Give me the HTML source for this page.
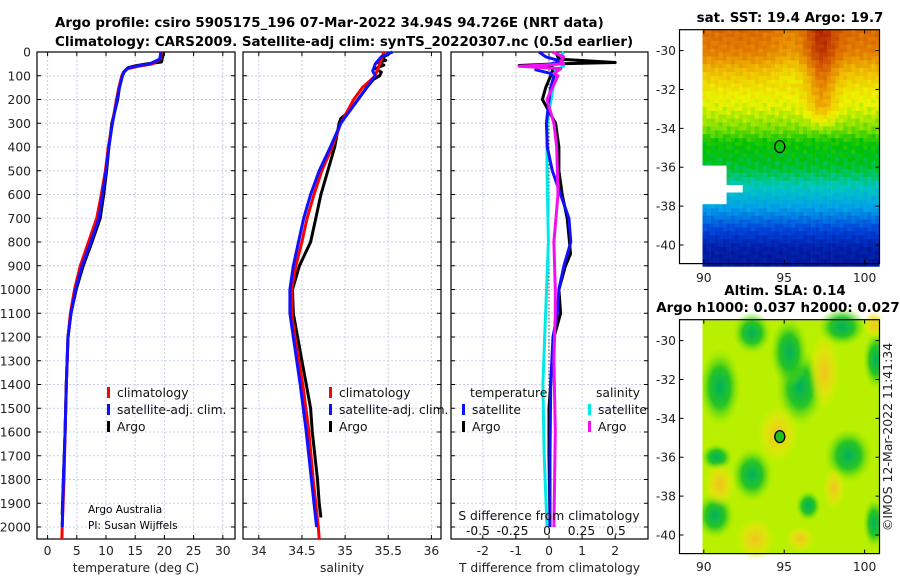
<!DOCTYPE html>
<html><head><meta charset="utf-8"><style>
html,body{margin:0;padding:0;background:#fff;}
svg{display:block;font-family:"DejaVu Sans","Liberation Sans",sans-serif;}
</style></head><body>
<svg id="fig" width="900" height="580" viewBox="0 0 900 580" xmlns="http://www.w3.org/2000/svg">
<g font-weight="bold" font-size="13.4" fill="#000">
<text x="55" y="27">Argo profile: csiro 5905175_196 07-Mar-2022 34.94S 94.726E (NRT data)</text>
<text x="55" y="46">Climatology: CARS2009. Satellite-adj clim: synTS_20220307.nc (0.5d earlier)</text>
</g>
<g id="p1"></g>
<g id="p2"></g>
<g id="p3"></g>
<g id="m1"></g>
<g id="m2"></g>
<text x="0" y="0" font-size="12.5" fill="#222" transform="translate(892,437) rotate(-90)" text-anchor="middle">©IMOS 12-Mar-2022 11:41:34</text>
</svg>
<script>
// ---------- data ----------
const depthTicks=[0,100,200,300,400,500,600,700,800,900,1000,1100,1200,1300,1400,1500,1600,1700,1800,1900,2000];
const tempTicks=[0,5,10,15,20,25,30];
const salTicks=[34,34.5,35,35.5,36];
const tdiffTicks=[-2,-1,0,1,2];
const sdiffTickLabels=["-0.5","-0.25","0","0.25","0.5"];
const sdiffTicks=[-0.5,-0.25,0,0.25,0.5];
const argoT=[[0,19.7],[20,19.7],[42,19.5],[50,17],[58,15],[66,13.8],[80,13.2],[100,12.8],[150,12.3],[200,12],[300,11],[400,10.5],[500,10.1],[600,9.6],[700,9.0],[800,7.6],[900,6.1],[1000,4.9],[1100,4.0],[1200,3.5],[1400,3.2],[1600,3.0],[1800,2.7],[1950,2.5]];
const climT=[[0,19.5],[30,19.3],[50,18],[60,15.5],[70,13.8],[85,13],[100,12.7],[150,12.2],[200,11.8],[300,11.1],[400,10.4],[500,9.9],[600,9.2],[700,8.4],[800,7.0],[900,5.6],[1000,4.6],[1100,3.9],[1200,3.5],[1400,3.2],[1600,3.0],[1800,2.8],[2000,2.5],[2050,2.45]];
const satT=[[0,19.4],[30,19.2],[50,17.5],[60,15],[70,13.6],[85,13],[100,12.8],[150,12.3],[200,11.9],[300,11.1],[400,10.5],[500,10.0],[600,9.4],[700,8.8],[800,7.4],[900,5.9],[1000,4.8],[1100,4.0],[1200,3.5],[1400,3.2],[1600,3.0],[1800,2.7],[2000,2.5]];
const argoS=[[0,35.5],[10,35.5],[25,35.42],[35,35.47],[45,35.38],[55,35.45],[70,35.35],[85,35.42],[100,35.4],[115,35.33],[150,35.25],[200,35.15],[250,35.05],[280,34.95],[300,34.93],[400,34.88],[500,34.8],[600,34.72],[700,34.66],[800,34.6],[900,34.47],[1000,34.39],[1100,34.4],[1200,34.45],[1300,34.5],[1400,34.55],[1500,34.6],[1600,34.62],[1700,34.65],[1800,34.68],[1900,34.7],[1960,34.72]];
const climS=[[0,35.45],[50,35.4],[100,35.35],[150,35.2],[200,35.1],[300,34.95],[400,34.85],[500,34.73],[600,34.64],[700,34.56],[800,34.5],[900,34.43],[1000,34.38],[1100,34.38],[1200,34.42],[1400,34.51],[1600,34.58],[1800,34.63],[2000,34.69],[2050,34.7]];
const satS=[[0,35.55],[20,35.42],[50,35.35],[80,35.32],[100,35.35],[150,35.25],[200,35.15],[300,34.95],[400,34.83],[500,34.7],[600,34.6],[700,34.52],[800,34.46],[900,34.4],[1000,34.36],[1100,34.36],[1200,34.4],[1400,34.48],[1600,34.55],[1800,34.61],[2000,34.67]];
const argoTd=[[0,0.2],[30,0.3],[44,2.0],[50,0.2],[57,-0.9],[64,0.1],[80,0.1],[100,0.05],[150,-0.1],[200,-0.2],[250,0],[300,0.2],[400,0.3],[500,0.3],[600,0.4],[700,0.55],[800,0.62],[850,0.65],[900,0.5],[1000,0.3],[1100,0.35],[1200,0.15],[1300,0.1],[1500,0],[1700,0],[2000,0.03]];
const satTd=[[0,-0.3],[20,-0.1],[40,0.4],[60,-0.3],[75,-0.4],[90,0.05],[100,0.15],[150,0.05],[200,0],[300,-0.08],[400,-0.05],[500,0.1],[600,0.35],[700,0.6],[800,0.66],[900,0.45],[1000,0.3],[1100,0.25],[1200,0.12],[1400,0.05],[1700,0.03],[2000,0.03]];
const satSd=[[0,0.12],[20,0.1],[40,0.08],[60,0.12],[80,0.05],[100,0.06],[200,0.03],[300,0],[500,0],[800,0.01],[1100,-0.01],[1400,-0.03],[1700,-0.02],[2000,0]];
const argoSd=[[0,0.04],[20,0.12],[40,0.1],[50,0.12],[60,-0.2],[70,0.1],[90,0.05],[100,0.08],[200,0],[300,0.05],[400,0.07],[600,0.08],[800,0.05],[1000,0.06],[1100,0.06],[1300,0.05],[1600,0.06],[2000,0.05]];
const lonTicks=[90,95,100];
const latTicks=[-30,-32,-34,-36,-38,-40];
const argoPos=[94.726,-34.94];

// ---------- helpers ----------
const NS="http://www.w3.org/2000/svg";
const FS=12.3;
function mk(tag,attrs,parent){const e=document.createElementNS(NS,tag);for(const k in attrs)e.setAttribute(k,attrs[k]);parent.appendChild(e);return e;}
const yD=p=>52+p*0.2375;
function panel(g,x0,x1,xs,ticks,labels,xlabel){
  const y0=52,y1=539;
  depthTicks.forEach(d=>{const l=mk('line',{x1:x0,x2:x1,y1:yD(d),y2:yD(d),stroke:'#c9cfe8','stroke-dasharray':'2,2','stroke-width':1},g);
    });
  ticks.forEach(v=>{const l=mk('line',{x1:xs(v),x2:xs(v),y1:y0,y2:y1,stroke:'#c9cfe8','stroke-dasharray':'2,2','stroke-width':1},g);
    });
  const r=mk('rect',{x:x0,y:y0,width:x1-x0,height:y1-y0,fill:'none',stroke:'#000','stroke-width':1.2},g);
  
  ticks.forEach((v,i)=>{mk('line',{x1:xs(v),x2:xs(v),y1:y1,y2:y1-4,stroke:'#000'},g);mk('line',{x1:xs(v),x2:xs(v),y1:y0,y2:y0+4,stroke:'#000'},g);
    const t=mk('text',{x:xs(v),y:555,'font-size':FS,'text-anchor':'middle',fill:'#222'},g);t.textContent=labels[i];
    });
  depthTicks.forEach(d=>{mk('line',{x1:x0,x2:x0+4,y1:yD(d),y2:yD(d),stroke:'#000'},g);mk('line',{x1:x1,x2:x1-4,y1:yD(d),y2:yD(d),stroke:'#000'},g);});
  const xl=mk('text',{x:(x0+x1)/2,y:572,'font-size':FS,'text-anchor':'middle',fill:'#222'},g);xl.textContent=xlabel;
  
}
function line(g,data,xs,color,name,w){
  const d=data.map((p,i)=>(i?'L':'M')+xs(p[1]).toFixed(1)+','+yD(p[0]).toFixed(1)).join('');
  const e=mk('path',{d:d,fill:'none',stroke:color,'stroke-width':w||3,'stroke-linejoin':'round'},g);
  
}
function legend(g,x,y,color,label,name){
  mk('rect',{x:x,y:y-10,width:3,height:11,fill:color},g);
  const t=mk('text',{x:x+10,y:y,'font-size':FS,fill:'#111'},g);t.textContent=label;
  
}
// ---------- panel 1 ----------
const p1=document.getElementById('p1');
const xT=v=>47.6+v*5.84;
panel(p1,37,235,xT,tempTicks,tempTicks.map(String),'temperature (deg C)');
depthTicks.forEach(d=>{const t=mk('text',{x:31,y:yD(d)+4.5,'font-size':FS,'text-anchor':'end',fill:'#222'},p1);t.textContent=d;
  });
line(p1,argoT,xT,'#000','argo-temperature-line');
line(p1,climT,xT,'#f00','climatology-temperature-line');
line(p1,satT,xT,'#1010ff','satellite-temperature-line');
legend(p1,107,397,'#f00','climatology','legend-climatology');
legend(p1,107,414,'#1010ff','satellite-adj. clim.','legend-satellite');
legend(p1,107,431,'#000','Argo','legend-argo');
[['Argo Australia',513],['PI: Susan Wijffels',529]].forEach(a=>{const t=mk('text',{x:88,y:a[1],'font-size':10.5,fill:'#000'},p1);t.textContent=a[0];
  });
// ---------- panel 2 ----------
const p2=document.getElementById('p2');
const xS=v=>258.8+(v-34)*86.3;
panel(p2,243,441,xS,salTicks,salTicks.map(String),'salinity');
line(p2,argoS,xS,'#000','argo-salinity-line');
line(p2,climS,xS,'#f00','climatology-salinity-line');
line(p2,satS,xS,'#1010ff','satellite-salinity-line');
legend(p2,329,397,'#f00','climatology','legend-climatology');
legend(p2,329,414,'#1010ff','satellite-adj. clim.','legend-satellite');
legend(p2,329,431,'#000','Argo','legend-argo');
// ---------- panel 3 ----------
const p3=document.getElementById('p3');
const xTd=v=>549+v*33.1;
const xSd=v=>547+v*138;
panel(p3,451,648,xTd,tdiffTicks,tdiffTicks.map(String),'T difference from climatology');
const zl=mk('line',{x1:549,x2:549,y1:52,y2:539,stroke:'#444','stroke-dasharray':'1.5,2','stroke-width':1},p3);

line(p3,satSd,xSd,'#00e8e8','satellite-salinity-diff-line');
line(p3,argoTd,xTd,'#000','argo-temperature-diff-line');
line(p3,satTd,xTd,'#1010ff','satellite-temperature-diff-line');
line(p3,argoSd,xSd,'#f010f0','argo-salinity-diff-line');
const st=mk('text',{x:549,y:520,'font-size':FS,'text-anchor':'middle',fill:'#111'},p3);st.textContent='S difference from climatology';

sdiffTicks.forEach((v,i)=>{const t=mk('text',{x:xSd(v),y:535,'font-size':FS,'text-anchor':'middle',fill:'#111'},p3);t.textContent=sdiffTickLabels[i];
  });
const lt=mk('text',{x:470,y:397,'font-size':FS,fill:'#111'},p3);lt.textContent='temperature';

const ls=mk('text',{x:596,y:397,'font-size':FS,fill:'#111'},p3);ls.textContent='salinity';

legend(p3,462,414,'#1010ff','satellite','legend-t-satellite');
legend(p3,462,431,'#000','Argo','legend-t-argo');
legend(p3,588,414,'#00e8e8','satellite','legend-s-satellite');
legend(p3,588,431,'#f010f0','Argo','legend-s-argo');

// ---------- maps ----------
const stops=[[0,[0,12,140]],[0.15,[0,64,216]],[0.3,[0,160,232]],[0.4,[0,200,192]],[0.5,[0,192,0]],[0.58,[128,224,0]],[0.65,[236,244,0]],[0.74,[240,190,0]],[0.84,[226,120,0]],[1,[176,32,0]]];
function cmap(v){v=Math.max(0,Math.min(1,v));for(let i=1;i<stops.length;i++){if(v<=stops[i][0]){const a=stops[i-1],b=stops[i],f=(v-a[0])/(b[0]-a[0]);
  return 'rgb('+a[1].map((c,k)=>Math.round(c+(b[1][k]-c)*f)).join(',')+')';}}return 'rgb(176,32,0)';}
const latProfile=[[-29,0.86],[-30,0.83],[-31,0.74],[-32,0.67],[-33,0.63],[-34,0.57],[-34.6,0.51],[-36,0.47],[-37,0.39],[-38,0.3],[-39,0.17],[-40,0.06],[-41,0.03]];
function lp(lat){for(let i=1;i<latProfile.length;i++){const a=latProfile[i-1],b=latProfile[i];if(lat>=b[0])return a[1]+(b[1]-a[1])*(a[0]-lat)/(a[0]-b[0]);}return 0.03;}
function drawMapAxes(g,y0,y1,lat30y,xl){
  const lx=lo=>703.8+(lo-90)*16.08, ly=la=>lat30y+(-30-la)*19.44;
  const r=mk('rect',{x:679.5,y:y0,width:200,height:y1-y0,fill:'none',stroke:'#000','stroke-width':1.2},g);
  
  lonTicks.forEach(v=>{mk('line',{x1:lx(v),x2:lx(v),y1:y1,y2:y1-4,stroke:'#000'},g);mk('line',{x1:lx(v),x2:lx(v),y1:y0,y2:y0+4,stroke:'#000'},g);
    const t=mk('text',{x:lx(v),y:xl,'font-size':FS,'text-anchor':'middle',fill:'#222'},g);t.textContent=v;
    });
  latTicks.forEach(v=>{mk('line',{x1:679.5,x2:683.5,y1:ly(v),y2:ly(v),stroke:'#000'},g);mk('line',{x1:879.5,x2:875.5,y1:ly(v),y2:ly(v),stroke:'#000'},g);
    const t=mk('text',{x:676,y:ly(v)+4.5,'font-size':FS,'text-anchor':'end',fill:'#222'},g);t.textContent=v;
    });
  const c=mk('ellipse',{cx:lx(argoPos[0]),cy:ly(argoPos[1]),rx:5,ry:6,fill:'none',stroke:'#000','stroke-width':1.3},g);
  
  return c;
}
// SST map
const m1=document.getElementById('m1');
(function(){
  const lx=lo=>703.8+(lo-90)*16.08, ly=la=>50.6+(-30-la)*19.44;
  const cells=mk('g',{},m1);
  for(let la=-28.9;la>-41;la-=0.2){for(let lo=89.92;lo<100.9;lo+=0.25){
    let v=lp(la);
    if(la>-34.2) v+=0.13*Math.exp(-Math.pow((lo-97.2)/0.9,2))*Math.min(1,(la+34.2)/1.5);
    if(la>-31.5) v-=0.04*Math.exp(-Math.pow((lo-95.3)/1.2,2));
    v+=0.025*Math.sin(lo*7.3+la*5.1)*Math.cos(lo*3.1-la*8.7);
    if(la<-35.8&&la>-37.9&&(lo<91.2||(lo<92.3&&la>-37.2&&la<-36.8))) continue;
    mk('rect',{x:lx(lo).toFixed(1),y:ly(la).toFixed(1),width:4.3,height:4.2,fill:cmap(v)},cells);
  }}
  const t=mk('text',{x:790,y:22,'font-size':13.4,'font-weight':'bold','text-anchor':'middle'},m1);t.textContent='sat. SST: 19.4 Argo: 19.7';
  
  const w=mk('rect',{x:680,y:30,width:22.5,height:233,fill:'#fff'},m1);
  
  drawMapAxes(m1,29.7,263.6,50.6,282);
})();
// SLA map
const m2=document.getElementById('m2');
(function(){
  const lx=lo=>703.8+(lo-90)*16.08, ly=la=>340.6+(-30-la)*19.44;
  const defs=mk('defs',{},m2);
  const gG=mk('radialGradient',{id:'gG'},defs);mk('stop',{offset:'0','stop-color':'#00b060'},gG);mk('stop',{offset:'0.5','stop-color':'#18c028','stop-opacity':'0.9'},gG);mk('stop',{offset:'1','stop-color':'#90e800','stop-opacity':'0'},gG);
  const gY=mk('radialGradient',{id:'gY'},defs);mk('stop',{offset:'0','stop-color':'#f4c020'},gY);mk('stop',{offset:'0.6','stop-color':'#f0e010','stop-opacity':'0.6'},gY);mk('stop',{offset:'1','stop-color':'#e0f000','stop-opacity':'0'},gY);
  const bg=mk('rect',{x:702.5,y:320.5,width:176.5,height:232.5,fill:'#b8f000'},m2);
  
  const blobs=[[91,-32.4,1.3,2.0,'gG'],[96,-32.4,1.5,2.0,'gG'],[95.3,-30.6,1.2,1.8,'gG'],[99,-35.9,1.5,1.4,'gG'],[93,-36.9,1.3,1.4,'gG'],[90.7,-39,1.2,1.2,'gG'],[98.6,-29.3,1.5,1.0,'gG'],[100.7,-31,0.8,1.5,'gG'],[100.6,-39.4,0.7,1.3,'gG'],[93,-29.6,1.2,1.1,'gG'],[90.8,-36,1.0,0.7,'gG'],[96.5,-38.5,0.8,0.8,'gG'],
    [97.5,-31.6,1.0,2.0,'gY'],[91,-37.4,1.0,1.2,'gY'],[93.2,-40.2,1.2,1.1,'gY'],[100.6,-29.2,0.7,0.7,'gY'],[94.6,-34.8,1.3,1.5,'gY'],[98.1,-37.6,0.7,1.1,'gY'],[96,-40.2,0.9,0.7,'gY']];
  blobs.forEach(b=>{const e=mk('ellipse',{cx:lx(b[0]),cy:ly(b[1]),rx:b[2]*16.08,ry:b[3]*19.44,fill:'url(#'+b[4]+')'},m2);
    });
  mk('rect',{x:880,y:318,width:8,height:238,fill:'#fff'},m2);
  mk('rect',{x:680,y:318,width:22.5,height:238,fill:'#fff'},m2);
  const t1=mk('text',{x:785,y:295,'font-size':13.4,'font-weight':'bold','text-anchor':'middle'},m2);t1.textContent='Altim. SLA: 0.14';
  
  const t2=mk('text',{x:778,y:312,'font-size':13.4,'font-weight':'bold','text-anchor':'middle'},m2);t2.textContent='Argo h1000: 0.037 h2000: 0.027';
  
  const c=drawMapAxes(m2,319.7,553.6,340.6,571);
  c.setAttribute('fill','#20c020');
})();
</script>
</body></html>
